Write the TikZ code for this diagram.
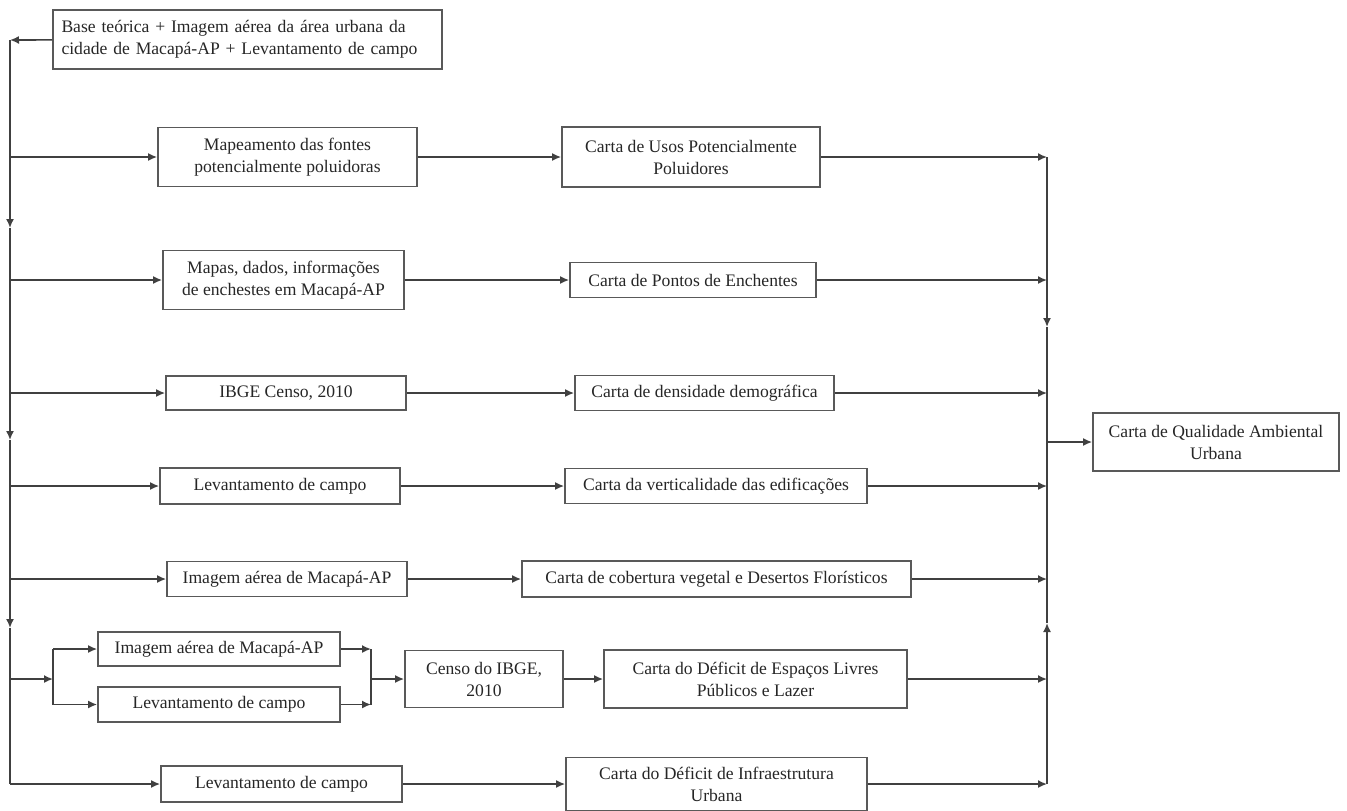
\documentclass[tikz,border=0pt]{standalone}
\usepackage{fontspec}
\setmainfont{Liberation Serif}
\usetikzlibrary{arrows.meta, positioning}

\begin{document}
\begin{tikzpicture}[x=0.5pt, y=-0.5pt, >={Latex[length=4.5pt, width=4pt]}, line width=0.8pt,
    caixa/.style={draw=black!65, line width=0.9pt, align=center, inner sep=2pt, text=black!85,
        font=\fontsize{8.8}{11}\selectfont},
    seta/.style={->, draw=black!75}]
        \useasboundingbox (0,0) rectangle (1347,810);

        % fonte de dados
        \node[caixa, align=left, text width=186pt, minimum width=194.5pt, minimum height=29.5pt] (base) at (247.5,39.5)
            {Base teórica + Imagem aérea da área urbana da\\cidade de Macapá-AP + Levantamento de campo};

        % coluna de entrada
        \node[caixa, minimum width=129.5pt, minimum height=29.5pt] (r1a) at (287.5,157) {Mapeamento das fontes\\potencialmente poluidoras};
        \node[caixa, minimum width=120.5pt, minimum height=29.5pt] (r2a) at (283.5,280) {Mapas, dados, informações\\de enchestes em Macapá-AP};
        \node[caixa, minimum width=120pt, minimum height=17pt] (r3a) at (286,393) {IBGE Censo, 2010};
        \node[caixa, minimum width=120pt, minimum height=18pt] (r4a) at (280,486) {Levantamento de campo};
        \node[caixa, minimum width=120pt, minimum height=17.5pt] (r5a) at (287,579) {Imagem aérea de Macapá-AP};
        \node[caixa, minimum width=121pt, minimum height=17pt] (r6a) at (219,649) {Imagem aérea de Macapá-AP};
        \node[caixa, minimum width=121pt, minimum height=17.5pt] (r6b) at (219,704.5) {Levantamento de campo};
        \node[caixa, minimum width=79pt, minimum height=28.5pt] (r6c) at (484,679) {Censo do IBGE,\\2010};
        \node[caixa, minimum width=120.5pt, minimum height=18pt] (r7a) at (281.5,784) {Levantamento de campo};

        % cartas
        \node[caixa, minimum width=129pt, minimum height=30pt] (r1b) at (691,157) {Carta de Usos Potencialmente\\Poluidores};
        \node[caixa, minimum width=123pt, minimum height=17.5pt] (r2b) at (693,280) {Carta de Pontos de Enchentes};
        \node[caixa, minimum width=129.5pt, minimum height=17.5pt] (r3b) at (704.5,393) {Carta de densidade demográfica};
        \node[caixa, minimum width=151pt, minimum height=17.5pt] (r4b) at (716,486) {Carta da verticalidade das edificações};
        \node[caixa, minimum width=194.5pt, minimum height=18pt] (r5b) at (716.5,579) {Carta de cobertura vegetal e Desertos Florísticos};
        \node[caixa, minimum width=151.5pt, minimum height=29pt] (r6d) at (755.5,679) {Carta do Déficit de Espaços Livres\\Públicos e Lazer};
        \node[caixa, minimum width=150.5pt, minimum height=26.5pt] (r7b) at (716.5,784) {Carta do Déficit de Infraestrutura\\Urbana};

        \node[caixa, minimum width=123pt, minimum height=29pt] (qual) at (1216,442) {Carta de Qualidade Ambiental\\Urbana};

        % eixo da esquerda
        \coordinate (sTop) at (10,40);
        \coordinate (s1) at (10,228);
        \coordinate (s2) at (10,440);
        \coordinate (s3) at (10,628);
        \coordinate (sBot) at (10,784);
        \draw[seta] (base) -- (sTop);
        \draw[seta] (sTop) -- (s1);
        \draw[seta] (s1) -- (s2);
        \draw[seta] (s2) -- (s3);
        \draw[draw=black!75] (s3) -- (sBot);

        % eixo da direita
        \coordinate (dTop) at (1047,157);
        \coordinate (d1) at (1047,327);
        \coordinate (d2) at (1047,623);
        \coordinate (dBot) at (1047,784);
        \draw[seta] (dTop) -- (d1);
        \draw[draw=black!75] (d1) -- (d2);
        \draw[seta] (dBot) -- (d2);
        \draw[seta] (qual -| dTop) -- (qual);

        % linhas
        \foreach \a/\b in {r1a/r1b, r2a/r2b, r3a/r3b, r4a/r4b, r5a/r5b, r7a/r7b} {
            \draw[seta] (\a -| sTop) -- (\a);
            \draw[seta] (\a) -- (\b);
        }
        \foreach \b in {r1b, r2b, r3b, r4b, r5b, r6d, r7b}
            \draw[seta] (\b) -- (\b -| dTop);

        % ramo duplo
        \coordinate (j1) at (53,679);
        \coordinate (j2) at (371,679);
        \draw[seta] (j1 -| sTop) -- (j1);
        \draw[draw=black!75] (r6a -| j1) -- (r6b -| j1);
        \draw[seta] (r6a -| j1) -- (r6a);
        \draw[seta] (r6b -| j1) -- (r6b);
        \draw[seta] (r6a) -- (r6a -| j2);
        \draw[seta] (r6b) -- (r6b -| j2);
        \draw[draw=black!75] (r6a -| j2) -- (r6b -| j2);
        \draw[seta] (j2) -- (r6c);
        \draw[seta] (r6c) -- (r6d);
    \end{tikzpicture}
\end{document}
